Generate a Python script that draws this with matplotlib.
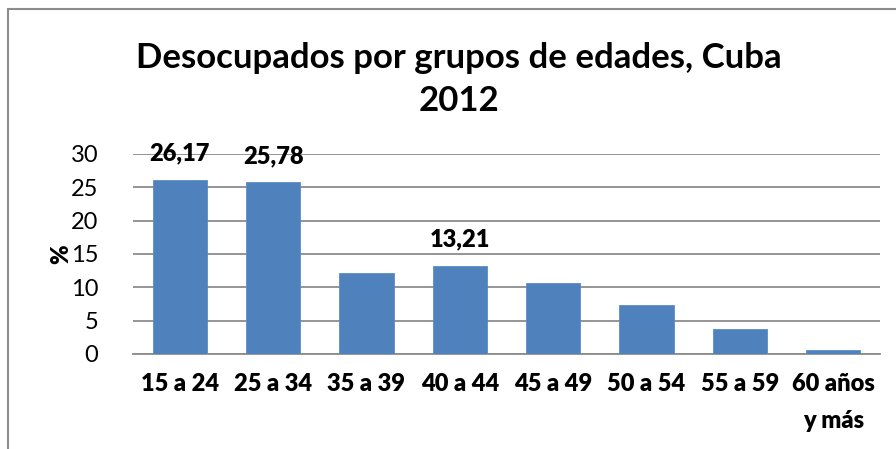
import matplotlib
matplotlib.use("Agg")
import matplotlib.pyplot as plt
from matplotlib.patches import Rectangle

categories = ["15 a 24", "25 a 34", "35 a 39", "40 a 44", "45 a 49", "50 a 54", "55 a 59", "60 años\ny más"]
values = [26.17, 25.78, 12.2, 13.21, 10.6, 7.35, 3.7, 0.55]
labelled = {0: "26,17", 1: "25,78", 3: "13,21"}
yticks = [0, 5, 10, 15, 20, 25, 30]

plt.rcParams['font.family'] = ['Lato', 'DejaVu Sans']

fig = plt.figure(figsize=(8.96, 4.49), dpi=100)
ax = fig.add_axes([133/896, 1-354/449, (880-133)/896, 200/449])

x = range(len(categories))
ax.bar(x, values, width=0.58, color="#4F81BD", edgecolor="#5B8CC6", linewidth=0.6, zorder=3)
ax.set_xlim(-0.5, len(categories)-0.5)
ax.set_ylim(0, 30)
ax.set_yticks(yticks)
ax.set_yticklabels([str(t) for t in yticks], fontsize=17)
ax.set_xticks(list(x))
ax.set_xticklabels(categories, fontsize=17, fontweight="heavy", linespacing=1.8)
ax.tick_params(axis="y", length=0, pad=25)
ax.tick_params(axis="x", length=0, pad=14)
ax.yaxis.grid(True, color="#8C8C8C", linewidth=1.3, zorder=0)
for s in ["top", "right", "left"]:
    ax.spines[s].set_visible(False)
ax.spines["bottom"].set_color("#8C8C8C")
ax.spines["bottom"].set_linewidth(1.3)
ax.set_ylabel("%", fontsize=17, fontweight="heavy")
ax.yaxis.set_label_coords((72-133)/747, 0.5)

for i, txt in labelled.items():
    ax.annotate(txt, (i, values[i]), xytext=(0, 11), textcoords="offset points",
                ha="center", va="bottom", fontsize=17, fontweight="heavy", zorder=4)

fig.text(459/896, 1-58/449, "Desocupados por grupos de edades, Cuba", ha="center", va="center",
         fontsize=25, fontweight="bold")
fig.text(459/896, 1-101/449, "2012", ha="center", va="center", fontsize=25, fontweight="bold")

fig.patches.append(Rectangle((8/896, -0.2), 1.2, 1.2 - 9/449, transform=fig.transFigure,
                             fill=False, edgecolor="#8C8C8C", linewidth=1.5))

fig.savefig("out.png", dpi=100)
